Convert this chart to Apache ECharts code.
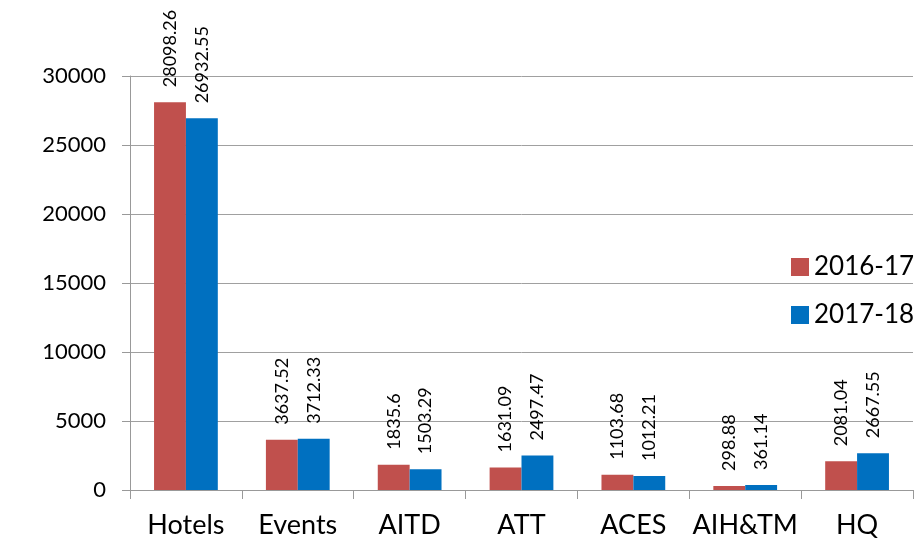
<!DOCTYPE html>
<html>
<head>
<meta charset="utf-8">
<script src="https://cdn.jsdelivr.net/npm/echarts@6/dist/echarts.min.js"></script>
<style>
  html, body { margin: 0; padding: 0; background: #fff; }
  #chart { width: 924px; height: 545px; }
</style>
</head>
<body>
<div id="chart"></div>
<script>
const categories = ['Hotels', 'Events', 'AITD', 'ATT', 'ACES', 'AIH&TM', 'HQ'];
const data2016 = [28098.26, 3637.52, 1835.6, 1631.09, 1103.68, 298.88, 2081.04];
const data2017 = [26932.55, 3712.33, 1503.29, 2497.47, 1012.21, 361.14, 2667.55];
const seriesNames = ['2016-17', '2017-18'];

const font = 'Lato, "Open Sans", sans-serif';
const myChart = echarts.init(document.getElementById('chart'));

const barLabel = {
  show: true,
  position: 'top',
  rotate: 90,
  align: 'left',
  verticalAlign: 'middle',
  distance: 15,
  fontFamily: font,
  fontSize: 18,
  color: '#000',
};

const option = {
  animation: false,
  backgroundColor: '#fff',
  grid: { left: 130, right: 11, top: 76, bottom: 55 },
  legend: {
    orient: 'vertical',
    left: 786,
    top: 249,
    itemWidth: 18,
    itemHeight: 18,
    itemGap: 22,
    icon: 'rect',
    textStyle: { fontFamily: font, fontSize: 26, color: '#000', lineHeight: 26 },
    data: seriesNames,
  },
  xAxis: {
    type: 'category',
    data: categories,
    axisLine: { lineStyle: { color: '#999' } },
    axisTick: { show: true, length: 9, lineStyle: { color: '#999' } },
    axisLabel: { fontFamily: font, fontSize: 27, color: '#000', margin: 22, interval: 0 },
  },
  yAxis: {
    type: 'value',
    min: 0,
    max: 30000,
    interval: 5000,
    axisLine: { show: true, lineStyle: { color: '#999' } },
    axisTick: { show: true, length: 8, lineStyle: { color: '#999' } },
    axisLabel: {
      fontFamily: font, fontSize: 22, color: '#000', margin: 24,
      formatter: (v) => String(v),
    },
    splitLine: { lineStyle: { color: '#a0a0a0' } },
  },
  series: [
    {
      name: seriesNames[0],
      type: 'bar',
      data: data2016,
      barGap: '0%',
      barCategoryGap: '43%',
      itemStyle: { color: '#C0504D' },
      label: barLabel,
    },
    {
      name: seriesNames[1],
      type: 'bar',
      data: data2017,
      itemStyle: { color: '#0070C0' },
      label: barLabel,
    },
  ],
};

myChart.setOption(option);
</script>
</body>
</html>
